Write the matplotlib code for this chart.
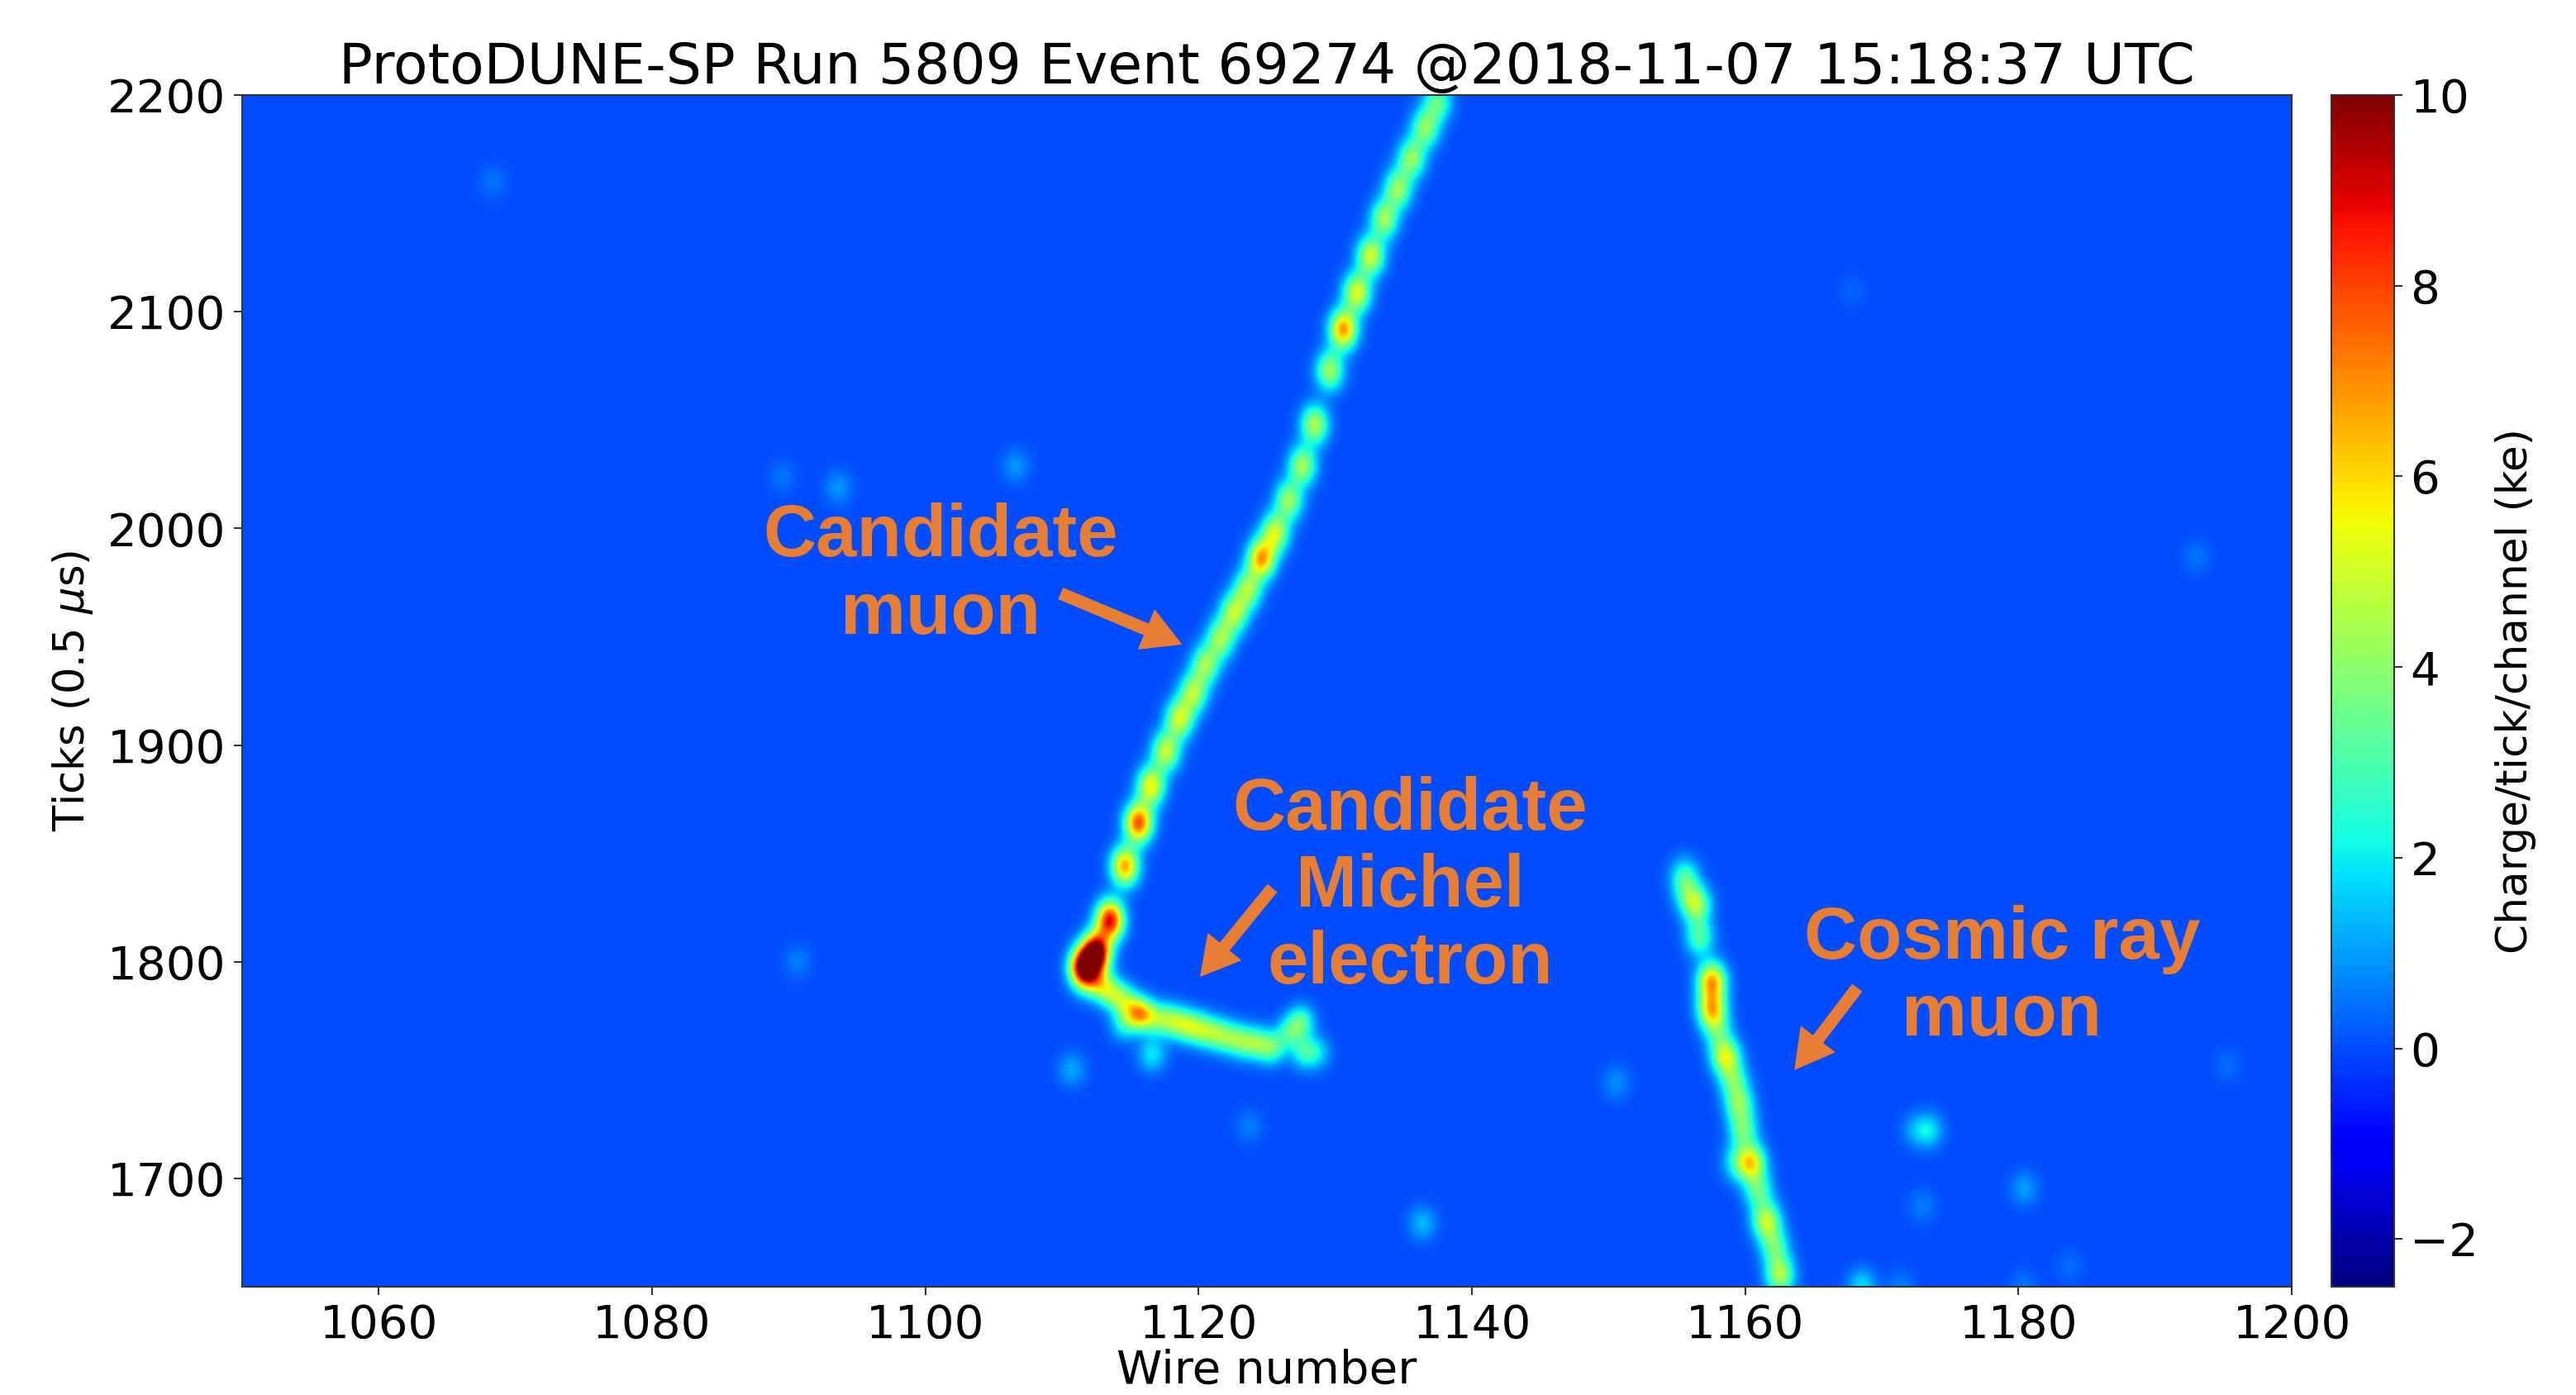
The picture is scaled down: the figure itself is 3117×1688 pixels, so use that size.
import numpy as np
import matplotlib
matplotlib.use("Agg")
import matplotlib.pyplot as plt
from matplotlib.patches import FancyArrowPatch

W, H = 3117, 1688
TITLE = "ProtoDUNE-SP Run 5809 Event 69274 @2018-11-07 15:18:37 UTC"

# Charge deposits: wire, tick, peak charge (ke)
muon_wire = [1137.5, 1136.6, 1135.6, 1134.6, 1133.6, 1132.6, 1131.6, 1130.6, 1129.6, 1128.5,
             1127.6, 1126.6, 1125.6, 1124.6, 1123.6, 1122.6, 1121.6, 1120.5, 1119.6, 1118.6,
             1117.6, 1116.5, 1115.6, 1114.6, 1113.5, 1112.5, 1111.6]
muon_tick = [2197, 2185, 2171, 2157, 2143, 2126, 2109, 2092, 2073, 2048,
             2029, 2013, 1998, 1986, 1972, 1961, 1949, 1937, 1924, 1912,
             1897, 1881, 1864, 1844, 1819, 1804, 1797]
muon_q = [3.3, 3.8, 4.0, 4.1, 4.2, 5.0, 5.2, 6.8, 4.2, 4.5,
          4.3, 4.1, 4.9, 6.6, 4.2, 4.5, 4.1, 4.1, 4.4, 4.9,
          4.8, 5.5, 7.8, 6.6, 8.8, 11.0, 11.0]

michel_wire = [1112.6, 1113.5, 1114.5, 1115.6, 1114.5, 1116.6, 1117.7, 1118.8, 1119.9, 1121.0,
               1122.1, 1123.2, 1124.3, 1125.4, 1126.6, 1127.5, 1127.7, 1128.7]
michel_tick = [1790, 1786, 1782, 1776, 1771, 1774, 1773, 1771, 1769, 1767,
               1765, 1763, 1762, 1760, 1767, 1772, 1758, 1758]
michel_q = [3.2, 3.3, 3.3, 5.8, 2.0, 2.7, 3.2, 3.6, 3.5, 3.2,
            3.0, 3.0, 3.0, 2.9, 2.3, 3.0, 2.3, 1.6]

cosmic_wire = [1155.6, 1156.5, 1156.7, 1157.6, 1157.6, 1158.0, 1158.6, 1159.2, 1159.6, 1159.9, 1160.5,
               1159.4, 1161.0, 1161.6, 1162.2, 1162.6, 1155.8]
cosmic_tick = [1839, 1826, 1811, 1791, 1778, 1768, 1756, 1745, 1734, 1722, 1707,
               1707, 1694, 1680, 1668, 1655, 1830]
cosmic_q = [2.7, 3.9, 3.0, 6.4, 5.8, 2.4, 5.0, 2.9, 3.5, 3.2, 5.4,
            2.0, 3.0, 4.7, 3.1, 4.4, 1.6]

spot_wire = [1116.6, 1110.7, 1068.3, 1106.6, 1093.6, 1089.5, 1090.6, 1150.6, 1173.5, 1180.5,
             1173.0, 1136.4, 1123.7, 1168.6, 1193.1, 1167.9, 1195.4, 1183.8, 1180.4,
             1172.5, 1171.5]
spot_tick = [1757, 1750, 2160, 2029, 2019, 2024, 1800, 1744, 1722, 1695,
             1687, 1679, 1724, 1650, 1987, 2110, 1752, 1659, 1650,
             1722, 1650]
spot_q = [1.9, 1.1, 0.5, 0.9, 0.9, 0.5, 0.6, 0.8, 1.8, 1.0,
          0.6, 1.3, 0.6, 1.8, 0.5, 0.3, 0.4, 0.4, 0.5,
          0.9, 0.6]

wire_lim = [1050, 1200]
tick_lim = [1650, 2200]
charge_lim = [-2.5, 10]
wire_ticks = [1060, 1080, 1100, 1120, 1140, 1160, 1180, 1200]
tick_ticks = [1700, 1800, 1900, 2000, 2100, 2200]
charge_ticks = [-2, 0, 2, 4, 6, 8, 10]

wires = np.linspace(wire_lim[0], wire_lim[1], 901)
ticks = np.linspace(tick_lim[0], tick_lim[1], 826)


def response(hw, ht, hq, sig_w, sig_t):
    """Spread each deposit by the detector response."""
    hw, ht, hq = np.array(hw), np.array(ht, dtype=float), np.array(hq)
    gw = np.exp(-0.5 * ((wires[None, :] - hw[:, None]) / sig_w) ** 2)
    gt = np.exp(-0.5 * ((ticks[None, :] - ht[:, None]) / sig_t) ** 2)
    return (gt.T * hq) @ gw


charge = (response(muon_wire, muon_tick, muon_q, 0.70, 6.3)
          + response(michel_wire, michel_tick, michel_q, 0.68, 5.2)
          + response(cosmic_wire, cosmic_tick, cosmic_q, 0.72, 6.0)
          + response(spot_wire, spot_tick, spot_q, 0.72, 5.5))

plt.rcParams["font.family"] = "DejaVu Sans"
plt.rcParams["mathtext.fontset"] = "dejavusans"
fig = plt.figure(figsize=(W / 100, H / 100), dpi=100, facecolor="white")
ax = fig.add_axes([293 / W, 1 - 1557 / H, (2773 - 293) / W, (1557 - 115) / H])
cax = fig.add_axes([2821 / W, 1 - 1557 / H, (2897 - 2821) / W, (1557 - 115) / H])

im = ax.imshow(charge, origin="lower", aspect="auto", cmap="jet",
               vmin=charge_lim[0], vmax=charge_lim[1], interpolation="bilinear",
               extent=[wire_lim[0], wire_lim[1], tick_lim[0], tick_lim[1]])
ax.set_xlim(wire_lim)
ax.set_ylim(tick_lim)
ax.set_xticks(wire_ticks)
ax.set_yticks(tick_ticks)
FS = 40.5
ax.tick_params(labelsize=FS, length=7, width=1.5, pad=7, color="#333333")
ax.set_xlabel("Wire number", fontsize=40.4, labelpad=1)
ax.set_ylabel(r"Ticks (0.5 $\mu$s)", fontsize=36.8, labelpad=11)
ax.set_title(TITLE, fontsize=48.9, pad=5)

cb = fig.colorbar(im, cax=cax)
cb.set_ticks(charge_ticks)
cb.ax.tick_params(labelsize=FS, length=7, width=1.5, pad=7, color="#333333")
cb.set_label("Charge/tick/channel (ke)", fontsize=37.3, labelpad=14)
for a in (ax, cax):
    for s in a.spines.values():
        s.set_linewidth(1.5)
        s.set_color("#333333")

ORANGE = "#E87E33"
labels = [("Candidate\nmuon", 1101.1, 1978.0),
          ("Candidate\nMichel\nelectron", 1135.5, 1834.3),
          ("Cosmic ray\nmuon", 1178.8, 1792.3)]
for txt, wx, ty in labels:
    ax.text(wx, ty, txt, color=ORANGE, fontsize=64, family="Liberation Sans", weight="bold",
            ha="center", va="center", linespacing=1.14)
arrows = [((1109.9, 1970), (1118.8, 1946.4)),
          ((1125.4, 1834), (1120.1, 1793)),
          ((1168.2, 1788), (1163.6, 1750))]
for tail, tip in arrows:
    ax.add_patch(FancyArrowPatch(tail, tip, mutation_scale=1, color=ORANGE, lw=0,
                                 shrinkA=0, shrinkB=0,
                                 arrowstyle="simple,head_length=34,head_width=38,tail_width=11"))

fig.savefig("out.png", dpi=100)
